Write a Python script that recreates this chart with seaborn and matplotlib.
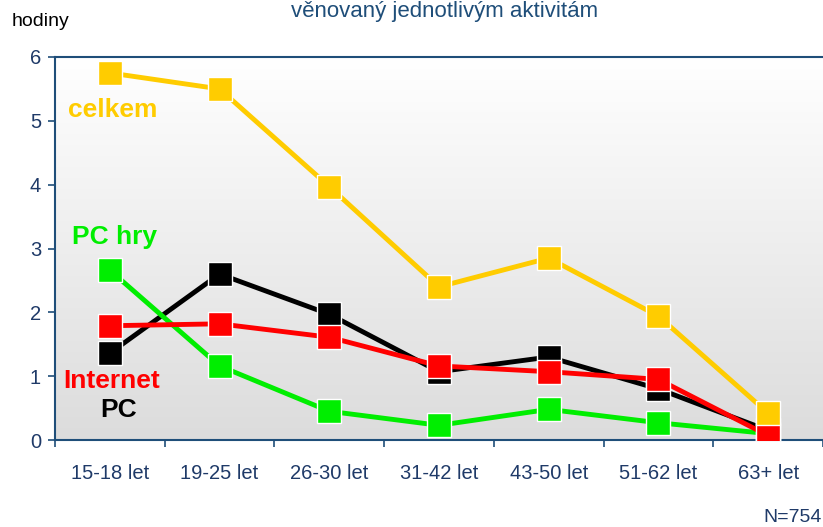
import numpy as np
import pandas as pd
import matplotlib.pyplot as plt
import seaborn as sns

sns.set_theme(style="white")
plt.rcParams['font.family'] = ['Liberation Sans', 'DejaVu Sans']

# --- data ---
vekove_skupiny = ['15-18 let', '19-25 let', '26-30 let', '31-42 let', '43-50 let', '51-62 let', '63+ let']
pc = [1.36, 2.60, 1.97, 1.07, 1.30, 0.80, 0.15]
pc_hry = [2.66, 1.16, 0.45, 0.23, 0.48, 0.27, 0.10]
internet = [1.79, 1.82, 1.61, 1.16, 1.07, 0.95, 0.07]
celkem = [5.75, 5.50, 3.97, 2.40, 2.85, 1.94, 0.42]

series = [
    ('PC', pc, '#000000'),
    ('PC hry', pc_hry, '#00ee00'),
    ('Internet', internet, '#ff0000'),
    ('celkem', celkem, '#ffcc00'),
]

axis_col = '#1f4e79'
text_col = '#1f3a68'

fig = plt.figure(figsize=(8.23, 5.27), dpi=100)
ax = fig.add_axes([55 / 823, 1 - 440 / 527, 1 - 55 / 823, (440 - 57) / 527])

# gradient background: white at top, grey at bottom
grad = np.linspace(0, 1, 256).reshape(-1, 1)
ax.imshow(grad, extent=[0, 1, 0, 1], transform=ax.transAxes, aspect='auto', origin='upper',
          cmap=plt.matplotlib.colors.LinearSegmentedColormap.from_list('g', ['#ffffff', '#dcdcdc']),
          vmin=0, vmax=1, zorder=0)

x = np.arange(len(vekove_skupiny))
for i, (name, vals, col) in enumerate(series):
    df = pd.DataFrame({'x': x, 'y': vals})
    sns.lineplot(data=df, x='x', y='y', ax=ax, color=col, linewidth=3.5,
                 marker='s', markersize=17.5, markeredgecolor='white',
                 markeredgewidth=1.0, zorder=3 + i)

ax.set_xlim(-0.5, 6.42)
ax.set_ylim(0, 6)
ax.set_xlabel('')
ax.set_ylabel('')

ax.set_xticks(x)
ax.set_xticklabels(vekove_skupiny)
ax.set_xticks(np.arange(-0.5, 7, 1), minor=True)
ax.tick_params(axis='x', which='major', length=0, pad=17, labelsize=14.5, labelcolor=text_col)
ax.tick_params(axis='x', which='minor', length=5, width=1.2, color=axis_col, direction='out', bottom=True)
ax.set_yticks(range(0, 7))
ax.tick_params(axis='y', length=5, width=1.2, color=axis_col, direction='out', left=True,
               labelsize=14.5, labelcolor=text_col, pad=5)

for s in ['left', 'bottom', 'top']:
    ax.spines[s].set_color(axis_col)
    ax.spines[s].set_linewidth(1.5)
ax.spines['right'].set_visible(False)

# series labels
lab = dict(fontsize=19, fontweight='bold', va='center')
fig.text(68 / 823, 1 - 110 / 527, 'celkem', color='#ffcc00', **lab)
fig.text(72 / 823, 1 - 237 / 527, 'PC hry', color='#00ee00', **lab)
fig.text(63 / 823, 1 - 381 / 527, 'Internet', color='#ff0000', **lab)
fig.text(100 / 823, 1 - 410 / 527, 'PC', color='#000000', **lab)

fig.text(445 / 823, 1 - 12 / 527, 'věnovaný jednotlivým aktivitám', color=axis_col, fontsize=16,
         ha='center', va='center')
fig.text(12 / 823, 1 - 22 / 527, 'hodiny', color='black', fontsize=14, va='center')
fig.text(822 / 823, 1 - 518 / 527, 'N=754', color=text_col, fontsize=14, ha='right', va='center')

fig.savefig('out.png', dpi=100)
